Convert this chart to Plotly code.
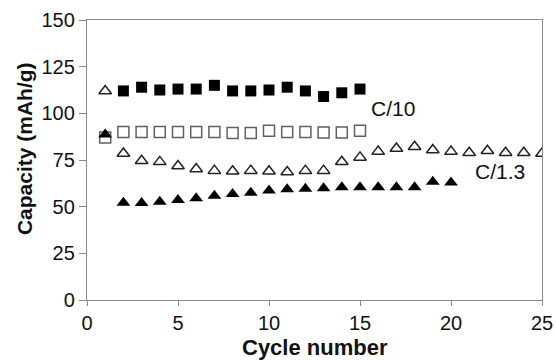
import plotly.graph_objects as go

cycles_c10 = list(range(2, 16))
cap_c10 = [112, 114, 112.5, 113, 113, 115, 112, 112, 112.5, 114, 112, 109, 111, 113]

cycles_open_sq = list(range(1, 16))
cap_open_sq = [87, 90, 90, 90, 90, 90, 90, 89.5, 89.5, 90.7, 90, 90, 89.7, 89.7, 90.7]

cycles_open_tri = list(range(1, 26))
cap_open_tri = [112, 78.5, 74.6, 74, 71.8, 70.2, 69.3, 69, 69.3, 69, 68.6, 69.3, 69.3,
                74.1, 76.4, 79.5, 81.2, 82.1, 80.4, 79.5, 78.9, 80, 78.9, 78.9, 78.5]

cycles_fill_tri = list(range(1, 21))
cap_fill_tri = [88.7, 52.1, 52, 52.7, 53.6, 54.5, 55.9, 56.8, 57.5, 58.6, 59.3, 59.6,
                59.8, 60.4, 60.4, 60.4, 60.4, 60.4, 63.4, 62.9]

x_ticks = [0, 5, 10, 15, 20, 25]
y_ticks = [0, 25, 50, 75, 100, 125, 150]

x_title = "Cycle number"
y_title = "Capacity (mAh/g)"

FONT = "Arial, Liberation Sans, sans-serif"

fig = go.Figure()
fig.add_trace(go.Scatter(x=cycles_open_sq, y=cap_open_sq, mode="markers",
                         marker=dict(symbol="square-open", size=11, color="#606060",
                                     line=dict(width=1.5, color="#606060"))))
fig.add_trace(go.Scatter(x=cycles_open_tri, y=cap_open_tri, mode="markers",
                         marker=dict(symbol="triangle-up-open", size=11, color="#222",
                                     line=dict(width=1.5, color="#222"))))
fig.add_trace(go.Scatter(x=cycles_c10, y=cap_c10, mode="markers",
                         marker=dict(symbol="square", size=11, color="black",
                                     line=dict(width=0))))
fig.add_trace(go.Scatter(x=cycles_fill_tri, y=cap_fill_tri, mode="markers",
                         marker=dict(symbol="triangle-up", size=12, color="black",
                                     line=dict(width=0))))

fig.add_annotation(x=16.84, y=102.6, text="C/10", showarrow=False,
                   font=dict(family=FONT, size=21, color="#111"))
fig.add_annotation(x=22.69, y=68.8, text="C/1.3", showarrow=False,
                   font=dict(family=FONT, size=21, color="#111"))

# axis titles placed as annotations for precise positioning
fig.add_annotation(xref="paper", yref="paper", x=0.5, y=0, yshift=-47,
                   xanchor="center", yanchor="middle", showarrow=False,
                   text="<b>" + x_title + "</b>",
                   font=dict(family=FONT, size=22, color="#111"))
fig.add_annotation(xref="paper", yref="paper", x=0, xshift=-63, y=0.539,
                   xanchor="center", yanchor="middle", showarrow=False, textangle=-90,
                   text="<b>" + y_title + "</b>",
                   font=dict(family=FONT, size=21, color="#111"))

fig.update_layout(
    width=556, height=361,
    margin=dict(l=87, r=14, t=20, b=61),
    paper_bgcolor="white", plot_bgcolor="white",
    showlegend=False,
    font=dict(family=FONT, size=20, color="#111"),
)
fig.update_xaxes(range=[0, 25], tickvals=x_ticks, showgrid=False, zeroline=False,
                 showline=True, linecolor="#8a8a8a", linewidth=1.3, mirror=True,
                 ticks="outside", ticklen=5, tickcolor="#8a8a8a",
                 tickfont=dict(size=20), automargin=False)
fig.update_yaxes(range=[0, 150], tickvals=y_ticks, showgrid=False, zeroline=False,
                 showline=True, linecolor="#8a8a8a", linewidth=1.3, mirror=True,
                 ticks="outside", ticklen=7, tickcolor="#8a8a8a",
                 tickfont=dict(size=20), automargin=False)

fig.write_html("out.html",
               config={"displayModeBar": False},
               post_script="document.body.style.margin='0';"
                           "document.body.style.overflow='hidden';")
